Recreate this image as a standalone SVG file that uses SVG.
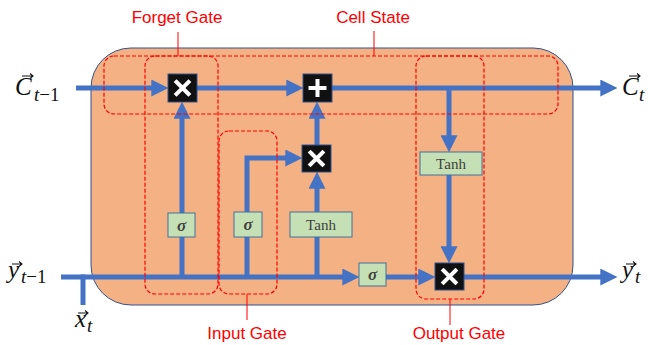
<svg xmlns="http://www.w3.org/2000/svg" width="648" height="345" viewBox="0 0 648 345">
<defs>
<marker id="ah" viewBox="0 0 10 10" refX="1" refY="5" markerWidth="3.4" markerHeight="3.4" orient="auto" markerUnits="strokeWidth">
<path d="M0,0 L10,5 L0,10 z" fill="#4472C4"/>
</marker>
<style>
.ln{stroke:#4472C4;stroke-width:5;fill:none}
.ar{marker-end:url(#ah)}
.op{fill:#111;stroke:#2F528F;stroke-width:1}
.sym{stroke:#fff;stroke-width:4;stroke-linecap:square}
.gb{fill:#C5E0B4;stroke:#41719C;stroke-width:1}
.sig{font-family:"Liberation Serif",serif;font-style:italic;font-weight:bold;font-size:17px;fill:#404040;text-anchor:middle}
.tanh{font-family:"Liberation Serif",serif;font-size:15px;fill:#404040;text-anchor:middle}
.dash{fill:none;stroke:#FF0000;stroke-width:1.2;stroke-dasharray:4 2}
.lbl{font-family:"Liberation Sans",sans-serif;font-size:17px;fill:#FF0000;text-anchor:middle}
.red{stroke:#FF0000;stroke-width:1}
.m{font-family:"Liberation Serif",serif;font-style:italic;fill:#111}
.mr{font-family:"Liberation Serif",serif;fill:#111}
.vec{stroke:#111;stroke-width:1.1;fill:none}
</style>
</defs>

<rect id="cell" x="91" y="48" width="482" height="257" rx="40" ry="40" fill="#F4B183" stroke="#2F528F" stroke-width="1"/>

<g id="connectors">
<line class="ln ar" x1="76" y1="88" x2="153" y2="88"/>
<line class="ln ar" x1="197" y1="88" x2="288" y2="88"/>
<line class="ln ar" x1="332" y1="88" x2="602" y2="88"/>
<line class="ln ar" x1="449" y1="88" x2="449" y2="137"/>
<line class="ln ar" x1="449" y1="175" x2="449" y2="248"/>
<line class="ln ar" x1="61" y1="277" x2="344" y2="277"/>
<line class="ln ar" x1="386" y1="277" x2="420" y2="277"/>
<line class="ln ar" x1="464" y1="277" x2="602" y2="277"/>
<line class="ln" x1="83" y1="274.5" x2="83" y2="305"/>
<line class="ln ar" x1="182" y1="279" x2="182" y2="117"/>
<polyline class="ln ar" points="247,279 247,158 287,158"/>
<line class="ln ar" x1="317" y1="279" x2="317" y2="187"/>
<line class="ln ar" x1="317" y1="145" x2="317" y2="117"/>
</g>

<g id="forget-mult"><rect class="op" x="168" y="74" width="29" height="28"/><path class="sym" d="M176.5,82 L188.5,94 M188.5,82 L176.5,94"/></g>
<g id="plus"><rect class="op" x="303" y="74" width="29" height="28"/><path class="sym" d="M317.5,81 L317.5,95 M310.5,88 L324.5,88"/></g>
<g id="input-mult"><rect class="op" x="302" y="145" width="29" height="27"/><path class="sym" d="M310.5,152.5 L322.5,164.5 M322.5,152.5 L310.5,164.5"/></g>
<g id="output-mult"><rect class="op" x="435" y="263" width="29" height="27"/><path class="sym" d="M443.5,270.5 L455.5,282.5 M455.5,270.5 L443.5,282.5"/></g>

<g id="forget-sigma"><rect class="gb" x="168" y="213" width="27" height="24"/><text class="sig" x="181.5" y="230.5">σ</text></g>
<g id="input-sigma"><rect class="gb" x="234" y="212" width="28" height="25"/><text class="sig" x="248" y="230">σ</text></g>
<g id="input-tanh"><rect class="gb" x="290" y="212" width="62" height="25"/><text class="tanh" x="321" y="230">Tanh</text></g>
<g id="output-tanh"><rect class="gb" x="420" y="152" width="62" height="23"/><text class="tanh" x="451" y="169">Tanh</text></g>
<g id="output-sigma"><rect class="gb" x="359" y="263" width="27" height="23"/><text class="sig" x="372.5" y="280">σ</text></g>

<g id="cell-state-gate"><rect class="dash" x="104" y="56" width="454" height="58" rx="10"/><line class="red" x1="374" y1="31" x2="374" y2="56"/><text class="lbl" x="373" y="23">Cell State</text></g>
<g id="forget-gate"><rect class="dash" x="145" y="56" width="73" height="238" rx="10"/><line class="red" x1="178" y1="32" x2="178" y2="56"/><text class="lbl" x="177" y="23">Forget Gate</text></g>
<g id="input-gate"><rect class="dash" x="219" y="131" width="58" height="163" rx="10"/><line class="red" x1="247" y1="294" x2="247" y2="320"/><text class="lbl" x="247" y="339">Input Gate</text></g>
<g id="output-gate"><rect class="dash" x="416" y="56" width="68" height="243" rx="10"/><line class="red" x1="450" y1="299" x2="450" y2="325"/><text class="lbl" x="459" y="339">Output Gate</text></g>

<g id="label-c-prev"><text class="m" x="15" y="95" font-size="25">C</text><path class="vec" d="M22,76 L33,76 M30,73.5 L33,76 L30,78.5"/><text x="34" y="101" font-size="19"><tspan class="m">t</tspan><tspan class="mr">−1</tspan></text></g>
<g id="label-c-t"><text class="m" x="622" y="95" font-size="25">C</text><path class="vec" d="M629,76 L640,76 M637,73.5 L640,76 L637,78.5"/><text class="m" x="639" y="101" font-size="19">t</text></g>
<g id="label-y-prev"><text class="m" x="8" y="278" font-size="25">y</text><path class="vec" d="M12,264 L22,264 M19,261.5 L22,264 L19,266.5"/><text x="21" y="283" font-size="19"><tspan class="m">t</tspan><tspan class="mr">−1</tspan></text></g>
<g id="label-y-t"><text class="m" x="622" y="278" font-size="25">y</text><path class="vec" d="M626,264 L636,264 M633,261.5 L636,264 L633,266.5"/><text class="m" x="635" y="283" font-size="19">t</text></g>
<g id="label-x-t"><text class="m" x="75" y="327" font-size="25">x</text><path class="vec" d="M78,313 L88,313 M85,310.5 L88,313 L85,315.5"/><text class="m" x="87" y="332" font-size="19">t</text></g>
</svg>
